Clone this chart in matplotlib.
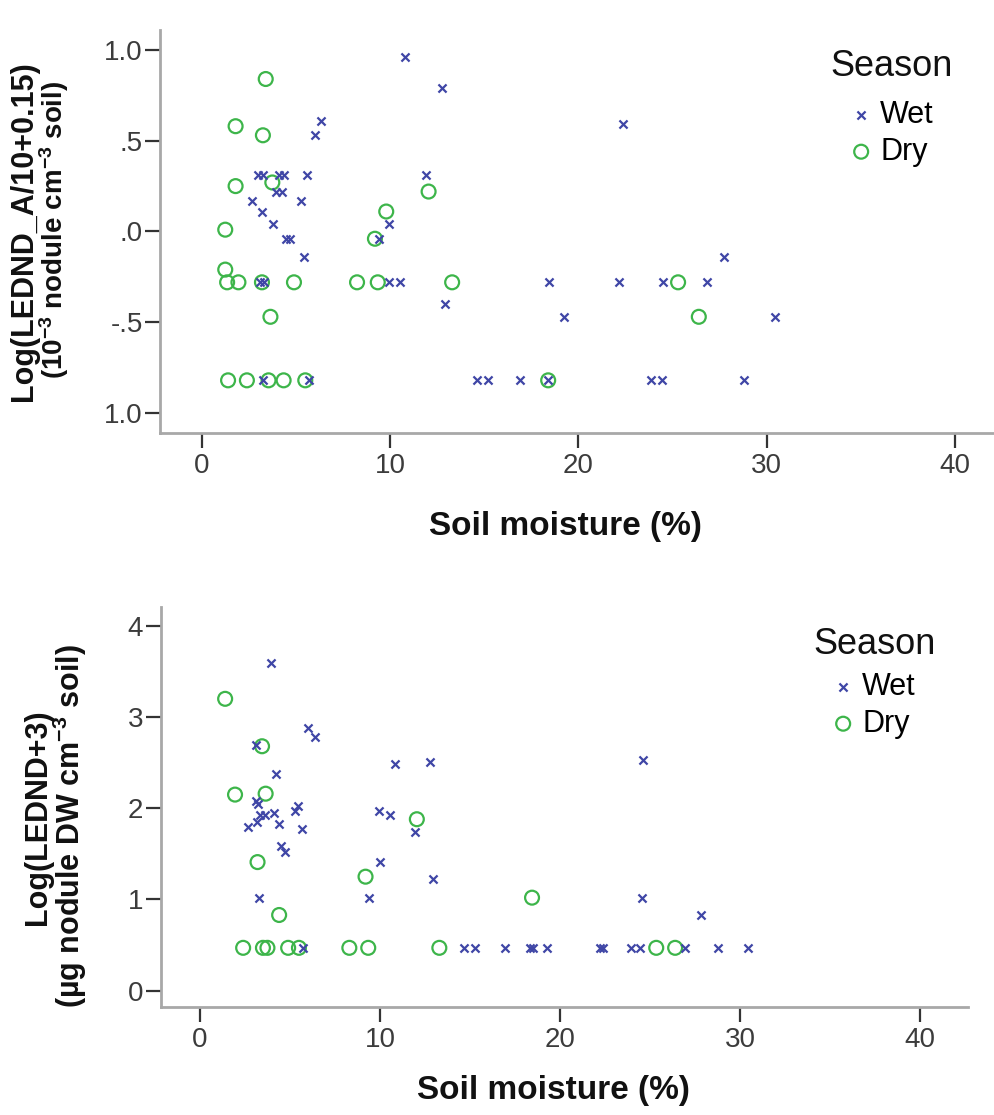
import matplotlib
matplotlib.use("Agg")
import matplotlib.pyplot as plt

plt.rcParams['font.family'] = ['Liberation Sans', 'DejaVu Sans']
plt.rcParams['mathtext.fontset'] = 'custom'
plt.rcParams['mathtext.rm'] = 'Liberation Sans:bold'
plt.rcParams['mathtext.bf'] = 'Liberation Sans:bold'
plt.rcParams['mathtext.default'] = 'rm'

# ---------------- data: top panel ----------------
top_wet_x = [10.8, 12.75, 6.35, 6.0, 3.0, 3.25, 4.1, 4.35, 5.6, 11.9, 3.95, 4.25, 2.65, 5.25,
             3.2, 3.8, 9.95, 4.5, 4.7, 9.4, 5.45, 3.1, 3.3, 9.95, 10.55, 12.9, 3.25, 5.7,
             14.6, 15.2, 22.4, 27.75, 18.45, 22.15, 24.5, 26.85, 19.25, 30.45, 16.9, 18.4,
             23.85, 24.45, 28.8]
top_wet_y = [0.96, 0.79, 0.61, 0.53, 0.31, 0.31, 0.31, 0.31, 0.31, 0.31, 0.22, 0.22, 0.17, 0.17,
             0.11, 0.04, 0.04, -0.04, -0.04, -0.04, -0.14, -0.28, -0.28, -0.28, -0.28, -0.40, -0.82, -0.82,
             -0.82, -0.82, 0.59, -0.14, -0.28, -0.28, -0.28, -0.28, -0.47, -0.47, -0.82, -0.82,
             -0.82, -0.82, -0.82]
top_dry_x = [3.4, 1.8, 3.25, 1.8, 3.75, 12.05, 9.8, 1.25, 9.2, 1.25, 1.35, 1.95, 3.2, 4.9,
             8.25, 9.35, 13.3, 25.3, 3.65, 26.4, 1.4, 2.4, 3.55, 4.35, 5.5, 18.4]
top_dry_y = [0.84, 0.58, 0.53, 0.25, 0.27, 0.22, 0.11, 0.01, -0.04, -0.21, -0.28, -0.28, -0.28, -0.28,
             -0.28, -0.28, -0.28, -0.28, -0.47, -0.47, -0.82, -0.82, -0.82, -0.82, -0.82, -0.82]

# ---------------- data: bottom panel ----------------
bot_wet_x = [3.95, 6.0, 6.4, 3.1, 4.25, 10.85, 12.8, 3.1, 3.25, 5.45, 5.3, 9.95, 10.55, 3.35,
             3.6, 4.1, 11.95, 2.65, 3.15, 4.4, 5.65, 4.5, 4.7, 10.0, 12.95, 3.3, 9.4, 5.7,
             14.65, 15.3, 24.6, 24.55, 27.85, 16.95, 18.35, 18.5, 19.3, 22.25, 22.4, 23.95,
             24.45, 26.95, 28.8, 30.45]
bot_wet_y = [3.59, 2.88, 2.78, 2.69, 2.38, 2.49, 2.51, 2.08, 2.05, 2.02, 1.97, 1.97, 1.93, 1.93,
             1.93, 1.95, 1.74, 1.79, 1.85, 1.83, 1.77, 1.59, 1.52, 1.41, 1.22, 1.02, 1.02, 0.47,
             0.47, 0.47, 2.53, 1.02, 0.83, 0.47, 0.47, 0.47, 0.47, 0.47, 0.47, 0.47,
             0.47, 0.47, 0.47, 0.47]
bot_dry_x = [1.4, 3.45, 1.95, 3.65, 12.05, 3.2, 9.2, 4.4, 18.45, 2.4, 3.5, 3.75, 4.9, 5.5,
             8.3, 9.35, 13.3, 25.35, 26.4]
bot_dry_y = [3.20, 2.68, 2.15, 2.16, 1.88, 1.41, 1.25, 0.83, 1.02, 0.47, 0.47, 0.47, 0.47, 0.47,
             0.47, 0.47, 0.47, 0.47, 0.47]

x_ticks = [0, 10, 20, 30, 40]
x_ticklabels = ['0', '10', '20', '30', '40']
top_y_ticks = [1.0, 0.5, 0.0, -0.5, -1.0]
top_y_ticklabels = ['1.0', '.5', '.0', '-.5', '1.0']
bot_y_ticks = [0, 1, 2, 3, 4]
bot_y_ticklabels = ['0', '1', '2', '3', '4']
season_labels = ['Wet', 'Dry']

WET_C = '#3f46a6'
DRY_C = '#3db54a'
SPINE_C = '#a8a8a8'
TICK_C = '#333333'

W, H = 995, 1115
fig = plt.figure(figsize=(W / 100, H / 100), dpi=100)
fig.patch.set_facecolor('white')


def px_rect(l, t, r, b):
    return [l / W, 1 - b / H, (r - l) / W, (b - t) / H]


def style(ax, xt, xtl, yt, ytl):
    for s in ['top', 'right']:
        ax.spines[s].set_visible(False)
    for s in ['left', 'bottom']:
        ax.spines[s].set_color(SPINE_C)
        ax.spines[s].set_linewidth(2.0)
    ax.set_xticks(xt)
    ax.set_xticklabels(xtl)
    ax.set_yticks(yt)
    ax.set_yticklabels(ytl)
    ax.tick_params(axis='both', direction='out', length=10.5, width=1.6, color=TICK_C,
                   labelsize=20, labelcolor='#3c3c3c')
    ax.tick_params(axis='x', pad=4)
    ax.tick_params(axis='y', pad=2)
    ax.set_facecolor('white')


def draw(ax, wx, wy, dx, dy):
    hw = ax.scatter(wx, wy, marker='x', s=34, linewidths=1.6, color=WET_C, zorder=3)
    hd = ax.scatter(dx, dy, marker='o', s=100, facecolors='none', edgecolors=DRY_C,
                    linewidths=1.6, zorder=2)
    return hw, hd


# ---------------- top panel ----------------
ax1 = fig.add_axes(px_rect(160, 30, 995, 432.7))
ax1.set_xlim(-2.215, 42.13)
ax1.set_ylim(-1.1085, 1.110)
h1w, h1d = draw(ax1, top_wet_x, top_wet_y, top_dry_x, top_dry_y)
style(ax1, x_ticks, x_ticklabels, top_y_ticks, top_y_ticklabels)

# ---------------- bottom panel ----------------
ax2 = fig.add_axes(px_rect(160.7, 606.7, 968, 1007.3))
ax2.set_xlim(-2.18, 42.67)
ax2.set_ylim(-0.182, 4.21)
h2w, h2d = draw(ax2, bot_wet_x, bot_wet_y, bot_dry_x, bot_dry_y)
style(ax2, x_ticks, x_ticklabels, bot_y_ticks, bot_y_ticklabels)

# ---------------- legends ----------------
def legend(ax, hw, hd, title_xy, anchor_xy):
    fig.text(title_xy[0] / W, 1 - title_xy[1] / H, 'Season', fontsize=26,
             ha='left', va='center', color='#111111')
    ax.legend([hw, hd], season_labels, loc='upper left',
              bbox_to_anchor=(anchor_xy[0] / W, 1 - anchor_xy[1] / H),
              bbox_transform=fig.transFigure, frameon=False, fontsize=22,
              handlelength=0.6, handletextpad=0.32, labelspacing=0.22,
              borderpad=0, borderaxespad=0, scatterpoints=1)

legend(ax1, h1w, h1d, (830, 66), (852, 100))
legend(ax2, h2w, h2d, (813, 644), (834, 672))

# ---------------- axis titles ----------------
LBL = dict(fontsize=22, fontweight='bold', color='#111111')
XLBL = dict(fontsize=24, fontweight='bold', color='#111111')
fig.text(565 / W, 1 - 527 / H, 'Soil moisture (%)', ha='center', va='center', **XLBL)
fig.text(553 / W, 1 - 1090 / H, 'Soil moisture (%)', ha='center', va='center', **XLBL)

fig.text(24 / W, 1 - 231 / H, 'Log(LEDND_A/10+0.15)', rotation=90,
         ha='center', va='center', **LBL)
fig.text(54 / W, 1 - 230 / H, r'(10$^{-3}$ nodule cm$^{-3}$ soil)', rotation=90,
         ha='center', va='center', fontsize=20, fontweight='bold', color='#111111')
fig.text(38 / W, 1 - 817 / H, 'Log(LEDND+3)', rotation=90,
         ha='center', va='center', **LBL)
fig.text(70 / W, 1 - 826 / H, r'(µg nodule DW cm$^{-3}$ soil)', rotation=90,
         ha='center', va='center', **LBL)

fig.savefig('out.png', dpi=100, facecolor='white')
